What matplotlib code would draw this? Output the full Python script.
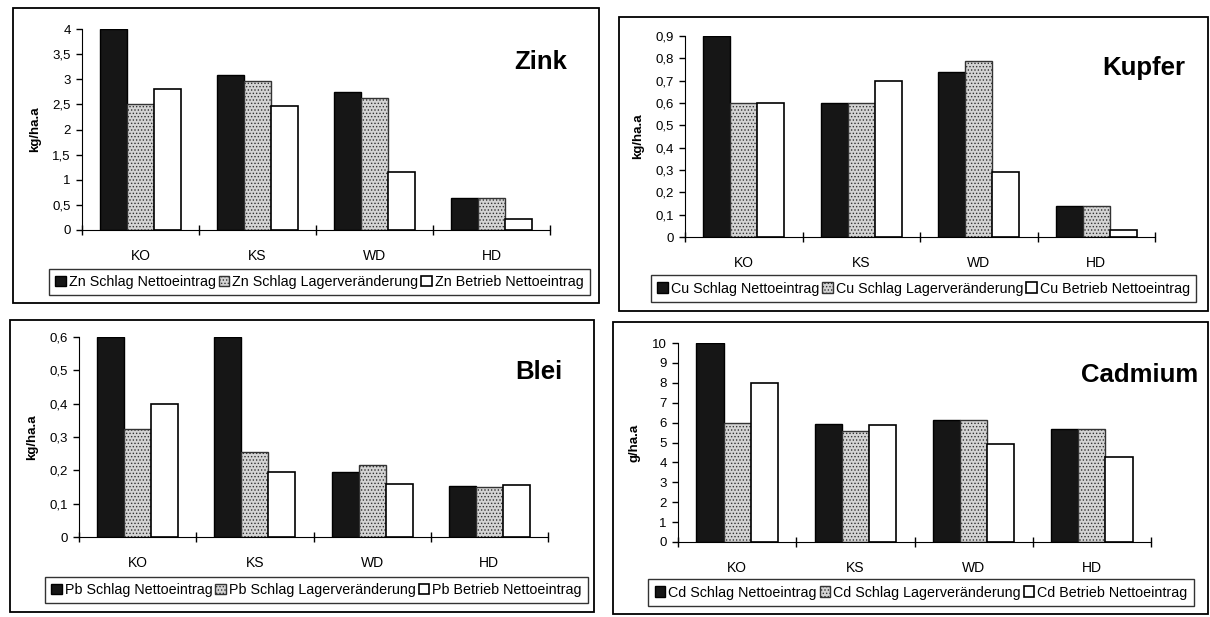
import matplotlib
matplotlib.use('Agg')
import matplotlib.pyplot as plt
import numpy as np
from matplotlib.patches import Rectangle
from matplotlib.ticker import FuncFormatter

plt.rcParams['font.family'] = ['Liberation Sans', 'DejaVu Sans']
plt.rcParams['hatch.linewidth'] = 0.6

W, H = 1210, 617

# Data
categories = ['KO', 'KS', 'WD', 'HD']

zn_schlag_netto = [4.0, 3.08, 2.75, 0.63]
zn_schlag_lager = [2.5, 2.97, 2.63, 0.63]
zn_betrieb_netto = [2.8, 2.47, 1.15, 0.22]

cu_schlag_netto = [0.9, 0.6, 0.74, 0.14]
cu_schlag_lager = [0.6, 0.6, 0.79, 0.14]
cu_betrieb_netto = [0.6, 0.7, 0.29, 0.03]

pb_schlag_netto = [0.6, 0.6, 0.195, 0.152]
pb_schlag_lager = [0.325, 0.255, 0.215, 0.15]
pb_betrieb_netto = [0.4, 0.195, 0.16, 0.157]

cd_schlag_netto = [10.0, 5.95, 6.15, 5.7]
cd_schlag_lager = [6.0, 5.6, 6.15, 5.7]
cd_betrieb_netto = [8.0, 5.9, 4.9, 4.25]

# layout in pixels: boxes are (left, top, right, bottom)
panels = [
    dict(sym='Zn', name='Zink', unit='kg/ha.a', ymax=4, step=0.5,
         data=(zn_schlag_netto, zn_schlag_lager, zn_betrieb_netto),
         frame=(13, 8, 599, 303), ax=(82, 29, 550, 230),
         title=(541, 62), leg=(46, 267, 593, 297)),
    dict(sym='Cu', name='Kupfer', unit='kg/ha.a', ymax=0.9, step=0.1,
         data=(cu_schlag_netto, cu_schlag_lager, cu_betrieb_netto),
         frame=(619, 17, 1208, 311), ax=(685, 36, 1155, 237),
         title=(1144, 68), leg=(647, 274, 1200, 303)),
    dict(sym='Pb', name='Blei', unit='kg/ha.a', ymax=0.6, step=0.1,
         data=(pb_schlag_netto, pb_schlag_lager, pb_betrieb_netto),
         frame=(10, 320, 594, 612), ax=(79, 337, 548, 537),
         title=(539, 372), leg=(42, 577, 591, 603)),
    dict(sym='Cd', name='Cadmium', unit='g/ha.a', ymax=10, step=1,
         data=(cd_schlag_netto, cd_schlag_lager, cd_betrieb_netto),
         frame=(613, 322, 1208, 614), ax=(678, 343, 1151, 542),
         title=(1140, 375), leg=(644, 578, 1198, 607)),
]


def fx(x):
    return x / W


def fy(y):
    return 1 - y / H


fig = plt.figure(figsize=(W / 100, H / 100), dpi=100)
fig.patch.set_facecolor('white')

comma = FuncFormatter(lambda v, p: ('%g' % round(v, 3)).replace('.', ','))

for p in panels:
    # outer frame around each chart
    l, t, r, b = p['frame']
    fig.patches.append(Rectangle((fx(l), fy(b)), fx(r - l), (b - t) / H,
                                 transform=fig.transFigure, fill=False,
                                 edgecolor='black', linewidth=1.3))

    al, at, ar, ab = p['ax']
    ax = fig.add_axes([fx(al), fy(ab), fx(ar - al), (ab - at) / H])
    x = np.arange(len(categories))
    w = 0.23
    s1, s2, s3 = p['data']
    ax.bar(x - w, s1, w, color='#161616', edgecolor='black', linewidth=1,
           label=p['sym'] + ' Schlag Nettoeintrag')
    ax.bar(x, s2, w, color='#d4d4d4', edgecolor='#333333', hatch='.....',
           linewidth=1, label=p['sym'] + ' Schlag Lagerveränderung')
    ax.bar(x + w, s3, w, color='white', edgecolor='black', linewidth=1.2,
           label=p['sym'] + ' Betrieb Nettoeintrag')

    ax.set_xlim(-0.5, len(categories) - 0.5)
    ax.set_ylim(0, p['ymax'])
    ax.set_yticks(np.arange(0, p['ymax'] + p['step'] / 2, p['step']))
    ax.yaxis.set_major_formatter(comma)
    ax.set_xticks(x)
    ax.set_xticklabels(categories)
    ax.set_xticks(np.arange(-0.5, len(categories)), minor=True)
    ax.tick_params(axis='x', which='major', length=0, pad=14, labelsize=10)
    ax.tick_params(axis='x', which='minor', length=7, direction='inout', width=1)
    ax.tick_params(axis='y', length=4, width=1, labelsize=9.5, pad=4)
    for sp in ['top', 'right']:
        ax.spines[sp].set_visible(False)
    ax.patch.set_alpha(0)
    ax.set_ylabel(p['unit'], fontsize=9.5, fontweight='bold', labelpad=8)

    fig.text(fx(p['title'][0]), fy(p['title'][1]), p['name'], fontsize=18.5,
             fontweight='bold', ha='center', va='center')

    ll, lt, lr, lb = p['leg']
    leg = fig.legend(*ax.get_legend_handles_labels(), ncol=3,
                     loc='center', bbox_to_anchor=(fx((ll + lr) / 2), fy((lt + lb) / 2)),
                     fontsize=10.3, frameon=True, fancybox=False, edgecolor='black',
                     handlelength=0.75, handleheight=0.75, handletextpad=0.2,
                     columnspacing=0.2, borderpad=0.45, borderaxespad=0)
    leg.get_frame().set_linewidth(1)

fig.savefig('out.png', dpi=100, facecolor='white')
